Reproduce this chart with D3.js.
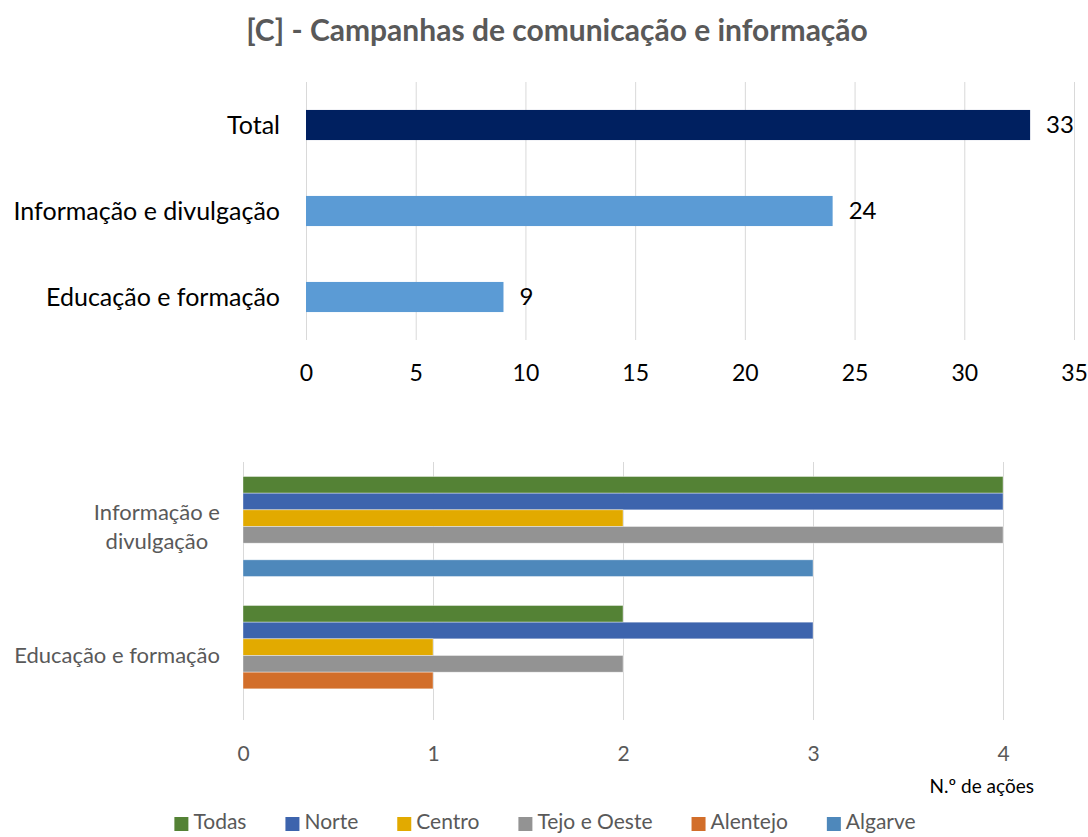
<!DOCTYPE html>
<html>
<head>
<meta charset="utf-8">
<script src="https://cdn.jsdelivr.net/npm/d3@7"></script>
<style>
  body { margin: 0; background: #fff; }
  svg { display: block; font-family: Lato, "Open Sans", sans-serif; }
</style>
</head>
<body>
<div id="chart"></div>
<script>
// top chart data
var totalCats = ["Total", "Informação e divulgação", "Educação e formação"];
var totalValues = [33, 24, 9];
var totalTicks = [0, 5, 10, 15, 20, 25, 30, 35];

// bottom chart data (per region)
var regionCats = [["Informação e", "divulgação"], ["Educação e formação"]];
var regionNames = ["Todas", "Norte", "Centro", "Tejo e Oeste", "Alentejo", "Algarve"];
var infoValues = [4, 4, 2, 4, 0, 3];
var educValues = [2, 3, 1, 2, 1, 0];
var regionTicks = [0, 1, 2, 3, 4];
var regionColors = ["#548235", "#3D64AD", "#E2AA00", "#939393", "#D26E2A", "#4E88BB"];

var W = 1088, H = 837;
var svg = d3.select("#chart").append("svg")
    .attr("width", W)
    .attr("height", H);

// title
svg.append("text")
    .attr("x", 557)
    .attr("y", 41)
    .attr("text-anchor", "middle")
    .style("font-size", "30px")
    .style("font-weight", "bold")
    .style("fill", "#595959")
    .text("[C] - Campanhas de comunicação e informação");

// ---------- top chart ----------
var x1 = d3.scaleLinear().domain([0, 35]).range([306, 1074]);
var y1 = d3.scaleBand().domain(totalCats).range([82, 340])
    .paddingInner(0.65).paddingOuter(0.325);

var gx1 = svg.append("g")
    .attr("transform", "translate(0,340)")
    .call(d3.axisBottom(x1).tickValues(totalTicks).tickSize(-(340 - 82)).tickPadding(25));
gx1.select(".domain").remove();
gx1.selectAll("line").style("stroke", "#d9d9d9");
gx1.selectAll("text")
    .style("font-size", "23px")
    .style("font-family", "Lato, sans-serif")
    .style("fill", "#000");

svg.append("g").selectAll("rect")
    .data(totalValues)
    .enter().append("rect")
    .attr("x", x1(0))
    .attr("y", function (d, i) { return y1(totalCats[i]); })
    .attr("width", function (d) { return x1(d) - x1(0); })
    .attr("height", y1.bandwidth())
    .style("fill", function (d, i) { return i == 0 ? "#002060" : "#5B9BD5"; });

svg.append("g").selectAll("text")
    .data(totalValues)
    .enter().append("text")
    .attr("x", function (d) { return x1(d) + 16; })
    .attr("y", function (d, i) { return y1(totalCats[i]) + y1.bandwidth() / 2; })
    .attr("dy", "0.35em")
    .style("font-size", "24px")
    .style("fill", "#000")
    .text(function (d) { return d; });

svg.append("g").selectAll("text")
    .data(totalCats)
    .enter().append("text")
    .attr("x", 280)
    .attr("y", function (d) { return y1(d) + y1.bandwidth() / 2; })
    .attr("dy", "0.35em")
    .attr("text-anchor", "end")
    .style("font-size", "25px")
    .style("fill", "#000")
    .text(function (d) { return d; });

// ---------- bottom chart ----------
var x2 = d3.scaleLinear().domain([0, 4]).range([243, 1003]);
var y2 = d3.scaleBand().domain([0, 1]).range([462, 720])
    .paddingInner(0.225).paddingOuter(0.1125);
var ySub = d3.scaleBand().domain(regionNames).range([0, y2.bandwidth()]);

var gx2 = svg.append("g")
    .attr("transform", "translate(0,720)")
    .call(d3.axisBottom(x2).tickValues(regionTicks).tickFormat(d3.format("d"))
        .tickSize(-(720 - 462)).tickPadding(26));
gx2.select(".domain").remove();
gx2.selectAll("line").style("stroke", "#d9d9d9");
gx2.selectAll("text")
    .style("font-size", "21px")
    .style("font-family", "Lato, sans-serif")
    .style("fill", "#595959");

var groups = svg.append("g").selectAll("g")
    .data([infoValues, educValues])
    .enter().append("g")
    .attr("transform", function (d, i) { return "translate(0," + y2(i) + ")"; });

groups.selectAll("rect")
    .data(function (d) { return d; })
    .enter().append("rect")
    .attr("x", x2(0))
    .attr("y", function (d, i) { return ySub(regionNames[i]); })
    .attr("width", function (d) { return x2(d) - x2(0); })
    .attr("height", ySub.bandwidth())
    .style("fill", function (d, i) { return regionColors[i]; })
    .style("stroke", "#fff")
    .style("stroke-opacity", 0.5)
    .style("stroke-width", 0.75)
    .style("display", function (d) { return d > 0 ? null : "none"; });

// category labels (lines centred, block right-aligned)
regionCats.forEach(function (lines, i) {
    var cy = y2(i) + y2.bandwidth() / 2;
    var t = svg.append("text")
        .attr("text-anchor", "middle")
        .style("font-size", "22px")
        .style("fill", "#595959");
    var lh = 29;
    lines.forEach(function (ln, j) {
        t.append("tspan")
            .attr("y", cy + (j - (lines.length - 1) / 2) * lh)
            .attr("dy", "0.35em")
            .text(ln);
    });
    var w = 0;
    t.selectAll("tspan").each(function () { w = Math.max(w, this.getComputedTextLength()); });
    t.selectAll("tspan").attr("x", 220 - w / 2);
});

// axis title
svg.append("text")
    .attr("x", 1034)
    .attr("y", 786)
    .attr("dy", "0.35em")
    .attr("text-anchor", "end")
    .style("font-size", "19px")
    .style("fill", "#000")
    .text("N.º de ações");

// legend
var legend = svg.append("g").attr("transform", "translate(0,822)");
var items = legend.selectAll("g")
    .data(regionNames)
    .enter().append("g");
items.append("rect")
    .attr("y", -5)
    .attr("width", 14)
    .attr("height", 14)
    .style("fill", function (d, i) { return regionColors[i]; });
items.append("text")
    .attr("x", 19)
    .attr("dy", "0.35em")
    .style("font-size", "21px")
    .style("fill", "#595959")
    .text(function (d) { return d; });
var pos = [], cur = 0;
items.each(function () {
    pos.push(cur);
    cur += 19 + d3.select(this).select("text").node().getComputedTextLength() + 39;
});
var total = cur - 39, start = 545 - total / 2;
items.attr("transform", function (d, i) { return "translate(" + (start + pos[i]) + ",0)"; });
</script>
</body>
</html>
